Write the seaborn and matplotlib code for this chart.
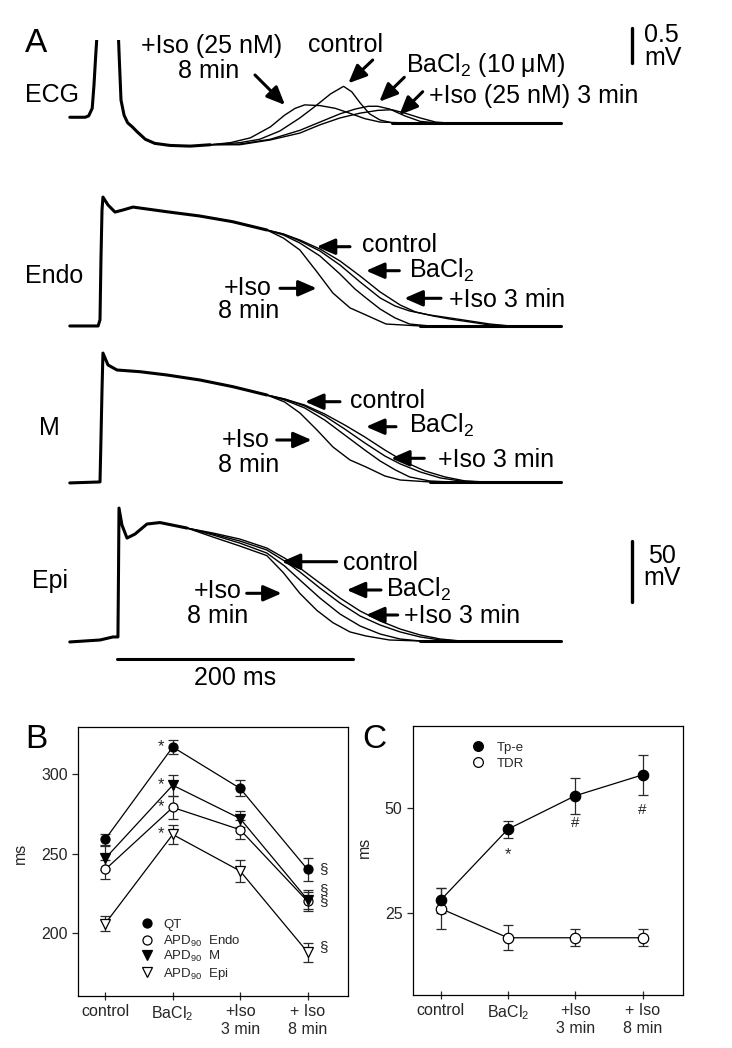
import matplotlib
matplotlib.use("Agg")
import matplotlib.pyplot as plt
import seaborn as sns

W, H = 732, 1048

# ---------------- panel A traces: time in ms (0 = Epi upstroke), voltage in mV ----------------
# ECG (mV), shared QRS / ST part, then one T wave per condition
ecg_start_t = [-40, -27, -24, -21, -19.5, -18, -15, -8, 0, 2, 3.4, 6, 9, 13, 17, 24, 32, 45, 62, 79]
ecg_start_v = [0.04, 0.04, 0.06, 0.17, 0.51, 0.95, 1.75, 3.2, 1.75, 0.87, 0.29, 0.07, -0.04, -0.10,
               -0.17, -0.28, -0.34, -0.37, -0.38, -0.36]
ecg_iso8_t = [79, 96, 113, 130, 142, 151, 159, 172, 185, 197, 210, 223, 240]
ecg_iso8_v = [-0.36, -0.33, -0.26, -0.10, 0.07, 0.17, 0.22, 0.21, 0.17, 0.10, 0.02, -0.03, -0.04]
ecg_ctrl_t = [79, 104, 121, 138, 155, 168, 181, 192, 199, 206, 214, 223, 233]
ecg_ctrl_v = [-0.36, -0.33, -0.28, -0.16, 0.03, 0.20, 0.38, 0.49, 0.41, 0.25, 0.09, 0.0, -0.04]
ecg_ba_t = [79, 104, 130, 155, 172, 189, 202, 213, 221, 231, 244, 257, 270]
ecg_ba_v = [-0.36, -0.35, -0.28, -0.15, -0.03, 0.09, 0.16, 0.20, 0.20, 0.16, 0.06, -0.02, -0.04]
ecg_iso3_t = [79, 104, 130, 155, 172, 189, 206, 221, 233, 244, 257, 270, 278]
ecg_iso3_v = [-0.36, -0.36, -0.29, -0.19, -0.07, 0.03, 0.10, 0.14, 0.15, 0.10, 0.03, -0.03, -0.04]
ecg_end_t = [233, 376]
ecg_end_v = [-0.04, -0.04]

# Endo action potentials (mV)
endo_start_t = [-40, -16, -14.4, -13.6, -12.7, -11.9, -7.6, -1.7, 5, 13.6, 42, 70, 98, 127]
endo_start_v = [-85, -85, -80, -31, 10, 20.7, 14.2, 8.4, 10.1, 12.5, 8.7, 5.2, 0.5, -6.3]
endo_iso8_t = [127, 141, 155, 169.5, 183, 197.5, 211, 228, 257]
endo_iso8_v = [-6.3, -12.9, -22.7, -40.7, -58, -70.2, -76, -83.4, -85]
endo_ctrl_t = [127, 141, 155, 172, 189, 201.7, 211, 223, 235.6, 248, 265]
endo_ctrl_v = [-6.3, -10.4, -17, -27.6, -42.4, -54.7, -62, -71.1, -78.4, -83.4, -85]
endo_ba_t = [127, 141, 155, 172, 189, 206, 223, 240, 253, 268, 282, 299, 316, 333]
endo_ba_v = [-6.3, -9.6, -14.5, -21.9, -31.7, -44, -57.1, -67.8, -73.5, -76.8, -79.3, -81.7, -84.2, -85]
endo_iso3_t = [127, 141, 155, 172, 189, 206, 223, 235.6, 248, 265, 282, 299, 316, 333]
endo_iso3_v = [-6.3, -9.6, -15.3, -23.5, -35, -48.9, -62, -68.6, -72.7, -76, -78.4, -80.9, -83.4, -85]
endo_end_t = [257, 376]
endo_end_v = [-85, -85]

# M cell action potentials (mV)
m_start_t = [-40, -14.4, -13.6, -12.7, -11.9, -7.6, 0, 19.5, 42.4, 70.3, 98.3, 127]
m_start_v = [-85.8, -85, -50.6, -9.6, 20.7, 10.9, 6.8, 5.4, 2.7, -1.4, -6.9, -13.7]
m_iso8_t = [127, 142, 155, 169.5, 183, 197.5, 211, 227, 240, 265]
m_iso8_v = [-13.7, -19.4, -28.4, -42.4, -56.3, -67, -72.7, -80.1, -83.4, -85]
m_ctrl_t = [127, 142, 159, 176, 193, 210, 223, 236, 248, 265, 282]
m_ctrl_v = [-13.7, -17.8, -24.3, -34.2, -46.5, -58.8, -67.8, -75.2, -80.9, -84.2, -85]
m_iso3_t = [127, 142, 159, 176, 193, 210, 227, 240, 257, 274, 291, 308]
m_iso3_v = [-13.7, -17, -22.7, -30.9, -41.6, -53, -63.7, -70.2, -76.8, -81.7, -84.2, -85]
m_ba_t = [127, 142, 159, 176, 193, 210, 227, 244, 261, 278, 295, 312]
m_ba_v = [-13.7, -17, -21.9, -29.3, -38.3, -48.1, -58.8, -68.6, -76, -80.9, -84.2, -85]
m_end_t = [265, 376]
m_end_v = [-85, -85]

# Epi action potentials (mV)
epi_start_t = [-40, -14.4, -3.4, 0.8, 1.3, 1.7, 4.2, 8.5, 15.3, 25.4, 36.4, 59.3]
epi_start_v = [-85.8, -84.2, -81.7, -81.7, -26.8, 24, 10.1, -0.6, 2.7, 10.9, 12.1, 7.6]
epi_iso8_t = [59.3, 81.4, 104, 127, 141, 155, 169.5, 183, 197.5, 211, 231, 257]
epi_iso8_v = [7.6, 0.2, -7.1, -15, -29, -46, -60, -70, -77.6, -80.9, -84.2, -85]
epi_ctrl_t = [59.3, 81.4, 104, 127, 142, 155, 172, 189, 206, 223, 240, 257]
epi_ctrl_v = [7.6, 1.9, -4.7, -12.9, -23.5, -35, -49.8, -62.9, -72.7, -79.3, -83.4, -85]
epi_iso3_t = [59.3, 81.4, 104, 127, 142, 155, 172, 189, 206, 223, 240, 257, 274, 291]
epi_iso3_v = [7.6, 2.7, -3.0, -10.4, -19.4, -28.4, -41.6, -53.9, -64.5, -71.9, -77.6, -81.7, -84.2, -85]
epi_ba_t = [59.3, 81.4, 104, 127, 142, 155, 172, 189, 206, 223, 240, 257, 274, 291]
epi_ba_v = [7.6, 3.5, -1.4, -8.8, -17, -25.2, -37.5, -49.8, -60.4, -68.6, -75.2, -80.1, -83.4, -85]
epi_end_t = [257, 376]
epi_end_v = [-85, -85]

# ---------------- panel B / C summary data (mean, SEM) ----------------
conditions = ["control", "BaCl$_2$", "+Iso\n3 min", "+ Iso\n8 min"]
qt_mean = [259, 317, 291, 240]
qt_sem = [3.5, 4.5, 5, 7]
endo_mean = [240, 279, 265, 220]
endo_sem = [6, 7, 6, 6]
m_mean = [247, 293, 272, 221]
m_sem = [7.5, 6.5, 5, 6]
epi_mean = [206, 262, 239, 188]
epi_sem = [4.5, 6, 7, 6]
tpe_mean = [28, 45, 53, 58]
tpe_sem = [3, 2, 4.3, 4.8]
tdr_mean = [26, 19, 19, 19]
tdr_sem = [5, 3, 2, 2]

sns.set_style("ticks")
plt.rcParams["font.family"] = ["Liberation Sans", "DejaVu Sans"]
plt.rcParams["mathtext.fontset"] = "custom"
plt.rcParams["mathtext.rm"] = "Liberation Sans"
plt.rcParams["mathtext.it"] = "Liberation Sans:italic"
plt.rcParams["mathtext.bf"] = "Liberation Sans:bold"

fig = plt.figure(figsize=(W / 100, H / 100), dpi=100)


def box(x0, y0, x1, y1):
    # image pixel box (origin top-left) -> figure rect
    return [x0 / W, 1 - y1 / H, (x1 - x0) / W, (y1 - y0) / H]


T_LIM = (-48.3, 494.1)
THIN, THICK = 1.0, 2.2


def trace_row(rect, ylim, start, tails, end):
    ax = fig.add_axes(rect)
    sns.lineplot(x=start[0], y=start[1], ax=ax, color="black", lw=THICK, estimator=None, sort=False)
    for t, v in tails:
        sns.lineplot(x=t, y=v, ax=ax, color="black", lw=THIN, estimator=None, sort=False)
    sns.lineplot(x=end[0], y=end[1], ax=ax, color="black", lw=THICK, estimator=None, sort=False)
    ax.set_xlim(*T_LIM)
    ax.set_ylim(*ylim)
    ax.axis("off")
    return ax


ax_ecg = trace_row(box(60, 40, 700, 160), (-0.582, 1.1645), (ecg_start_t, ecg_start_v),
                   [(ecg_iso8_t, ecg_iso8_v), (ecg_ctrl_t, ecg_ctrl_v),
                    (ecg_ba_t, ecg_ba_v), (ecg_iso3_t, ecg_iso3_v)], (ecg_end_t, ecg_end_v))
ax_endo = trace_row(box(60, 180, 700, 340), (-96.5, 34.7), (endo_start_t, endo_start_v),
                    [(endo_iso8_t, endo_iso8_v), (endo_ctrl_t, endo_ctrl_v),
                     (endo_ba_t, endo_ba_v), (endo_iso3_t, endo_iso3_v)], (endo_end_t, endo_end_v))
ax_m = trace_row(box(60, 340, 700, 495), (-95.7, 31.4), (m_start_t, m_start_v),
                 [(m_iso8_t, m_iso8_v), (m_ctrl_t, m_ctrl_v),
                  (m_ba_t, m_ba_v), (m_iso3_t, m_iso3_v)], (m_end_t, m_end_v))
ax_epi = trace_row(box(60, 495, 700, 700), (-133.4, 34.7), (epi_start_t, epi_start_v),
                   [(epi_iso8_t, epi_iso8_v), (epi_ctrl_t, epi_ctrl_v),
                    (epi_ba_t, epi_ba_v), (epi_iso3_t, epi_iso3_v)], (epi_end_t, epi_end_v))

# scale bars
ax_ecg.plot([436.4, 436.4], [0.834, 0.834 + 0.5], color="black", lw=2.4, clip_on=False)
ax_epi.plot([436.4, 436.4], [-52.8, -52.8 + 50], color="black", lw=2.4, clip_on=False)
ax_epi.plot([0, 200], [-100, -100], color="black", lw=2.2, clip_on=False)

# overlay in image pixels for labels and arrows
ov = fig.add_axes([0, 0, 1, 1], zorder=10)
ov.set_xlim(0, W)
ov.set_ylim(H, 0)
ov.axis("off")
ov.patch.set_alpha(0)

FS = 18


def label(x, y, s, ha="left", fs=FS):
    ov.text(x, y, s, ha=ha, va="baseline", fontsize=fs, color="black")


def arrow(tail, tip):
    ov.annotate("", xy=tip, xytext=tail,
                arrowprops=dict(arrowstyle="-|>,head_length=0.55,head_width=0.24",
                                mutation_scale=20, lw=2.2, color="black",
                                shrinkA=0, shrinkB=0))


# panel letters
label(25, 51.7, "A", fs=24)
label(25, 748.3, "B", fs=24)
label(362, 748.3, "C", fs=24)

# ECG row
label(25, 101.7, "ECG")
label(211.7, 53.3, "+Iso (25 nM)", ha="center")
label(208.3, 78.3, "8 min", ha="center")
arrow((255, 75), (285, 105))
label(345.5, 51.7, "control", ha="center")
arrow((372.7, 60), (348.3, 83.3))
label(406, 71.7, "BaCl$_2$ (10 μM)")
arrow((404.3, 77.3), (379.3, 101.7))
label(429.3, 102.7, "+Iso (25 nM) 3 min")
arrow((422.7, 91.7), (399.3, 115))
label(644, 41.7, "0.5")
label(644, 65, "mV")

# Endo row
label(25, 282.7, "Endo")
label(223.3, 295, "+Iso")
label(218.3, 318.3, "8 min")
arrow((280, 288.3), (316.7, 288.3))
label(362, 251.7, "control")
arrow((350, 246.7), (316.7, 246.7))
label(408.7, 278.3, "BaCl$_2$")
arrow((399.3, 270.7), (366, 270.7))
label(449.3, 306.7, "+Iso 3 min")
arrow((441, 298.3), (404.3, 298.3))

# M row
label(39.3, 435, "M")
label(221.7, 446.7, "+Iso")
label(218.3, 471.7, "8 min")
arrow((276.7, 440), (311.7, 440))
label(350, 408.3, "control")
arrow((340, 401.7), (305, 401.7))
label(409.3, 433.3, "BaCl$_2$")
arrow((396, 426.7), (366, 426.7))
label(437.7, 466.7, "+Iso 3 min")
arrow((424.3, 458.3), (391, 458.3))

# Epi row
label(31.7, 588.3, "Epi")
label(193.3, 598.3, "+Iso")
label(186.7, 623.3, "8 min")
arrow((246.7, 593.3), (281.7, 593.3))
label(343.3, 570, "control")
arrow((336.7, 561.7), (281.7, 561.7))
label(386, 596.7, "BaCl$_2$")
arrow((381, 590), (346.7, 590))
label(404.3, 623.3, "+Iso 3 min")
arrow((397.7, 615), (366, 615))
label(661.5, 563.3, "50", ha="center")
label(661.8, 585, "mV", ha="center")
label(235, 685, "200 ms", ha="center")

# ---------------- panels B and C ----------------
pos = [0, 1, 2, 3]
TICK_FS = 11.5


def summary(ax, mean, sem, marker, filled, ms):
    ax.errorbar(pos, mean, yerr=sem, fmt="none", ecolor="#2a2a2a", elinewidth=0.9,
                capsize=3.6, capthick=0.9, zorder=2)
    sns.lineplot(x=pos, y=mean, ax=ax, color="black", lw=0.9, marker=marker, markersize=ms,
                 markerfacecolor="black" if filled else "white", markeredgecolor="black",
                 markeredgewidth=0.9, estimator=None, legend=False, zorder=3)


def frame(ax, xlim, ylim, yticks):
    ax.set_xlim(*xlim)
    ax.set_ylim(*ylim)
    ax.set_xticks(pos)
    ax.set_xticklabels(conditions, fontsize=TICK_FS, linespacing=1.25)
    ax.set_yticks(yticks)
    ax.set_yticklabels([str(v) for v in yticks], fontsize=TICK_FS)
    for s in ax.spines.values():
        s.set_visible(True)
        s.set_linewidth(0.9)
        s.set_color("black")
    ax.tick_params(axis="x", direction="inout", length=6, width=0.9, pad=3)
    ax.tick_params(axis="y", direction="out", length=4.5, width=0.9, pad=3)
    ax.set_xlabel("")
    ax.set_ylabel("ms", fontsize=TICK_FS)


axB = fig.add_axes(box(78, 727, 348, 996))
summary(axB, qt_mean, qt_sem, "o", True, 6.5)
summary(axB, endo_mean, endo_sem, "o", False, 6.5)
summary(axB, m_mean, m_sem, "v", True, 6.5)
summary(axB, epi_mean, epi_sem, "v", False, 6.5)
frame(axB, (-0.405, 3.60), (160.4, 329.6), [200, 250, 300])
axB.yaxis.set_label_coords(-0.185, 0.53)

for y in [qt_mean[1], m_mean[1], endo_mean[1], epi_mean[1]]:
    axB.text(0.82, y + 0.5, "*", ha="center", va="center", fontsize=12)
# significance marks next to the +Iso 8 min points (M and Endo share a stacked pair)
axB.text(3.24, 240, "§", ha="center", va="center", fontsize=11)
axB.text(3.24, 223.5, "§\n§", ha="center", va="center", fontsize=11, linespacing=0.75)
axB.text(3.24, 191, "§", ha="center", va="center", fontsize=11)

b_leg = [("o", True, "QT"), ("o", False, "APD$_{90}$  Endo"),
         ("v", True, "APD$_{90}$  M"), ("v", False, "APD$_{90}$  Epi")]
for (mk, filled, txt), yf in zip(b_leg, [0.2714, 0.2082, 0.1524, 0.0892]):
    axB.plot([0.2556], [yf], transform=axB.transAxes, marker=mk, ms=6.5, mew=0.9,
             mec="black", mfc="black" if filled else "white", ls="none", clip_on=False)
    axB.text(0.315, yf - 0.018, txt, transform=axB.transAxes, ha="left", va="baseline",
             fontsize=9.5)

axC = fig.add_axes(box(413, 726, 683, 995))
summary(axC, tdr_mean, tdr_sem, "o", False, 7.5)
summary(axC, tpe_mean, tpe_sem, "o", True, 7.5)
frame(axC, (-0.41, 3.60), (5.3, 69.7), [25, 50])
axC.yaxis.set_label_coords(-0.152, 0.55)

axC.text(1, 38.8, "*", ha="center", va="center", fontsize=12)
axC.text(2, 46.4, "#", ha="center", va="center", fontsize=11)
axC.text(3, 49.6, "#", ha="center", va="center", fontsize=11)

for (filled, txt), yf in zip([(True, "Tp-e"), (False, "TDR")], [0.9257, 0.867]):
    axC.plot([0.242], [yf], transform=axC.transAxes, marker="o", ms=7, mew=0.9,
             mec="black", mfc="black" if filled else "white", ls="none", clip_on=False)
    axC.text(0.31, yf - 0.018, txt, transform=axC.transAxes, ha="left", va="baseline",
             fontsize=9.5)

fig.savefig("out.png", dpi=100)
